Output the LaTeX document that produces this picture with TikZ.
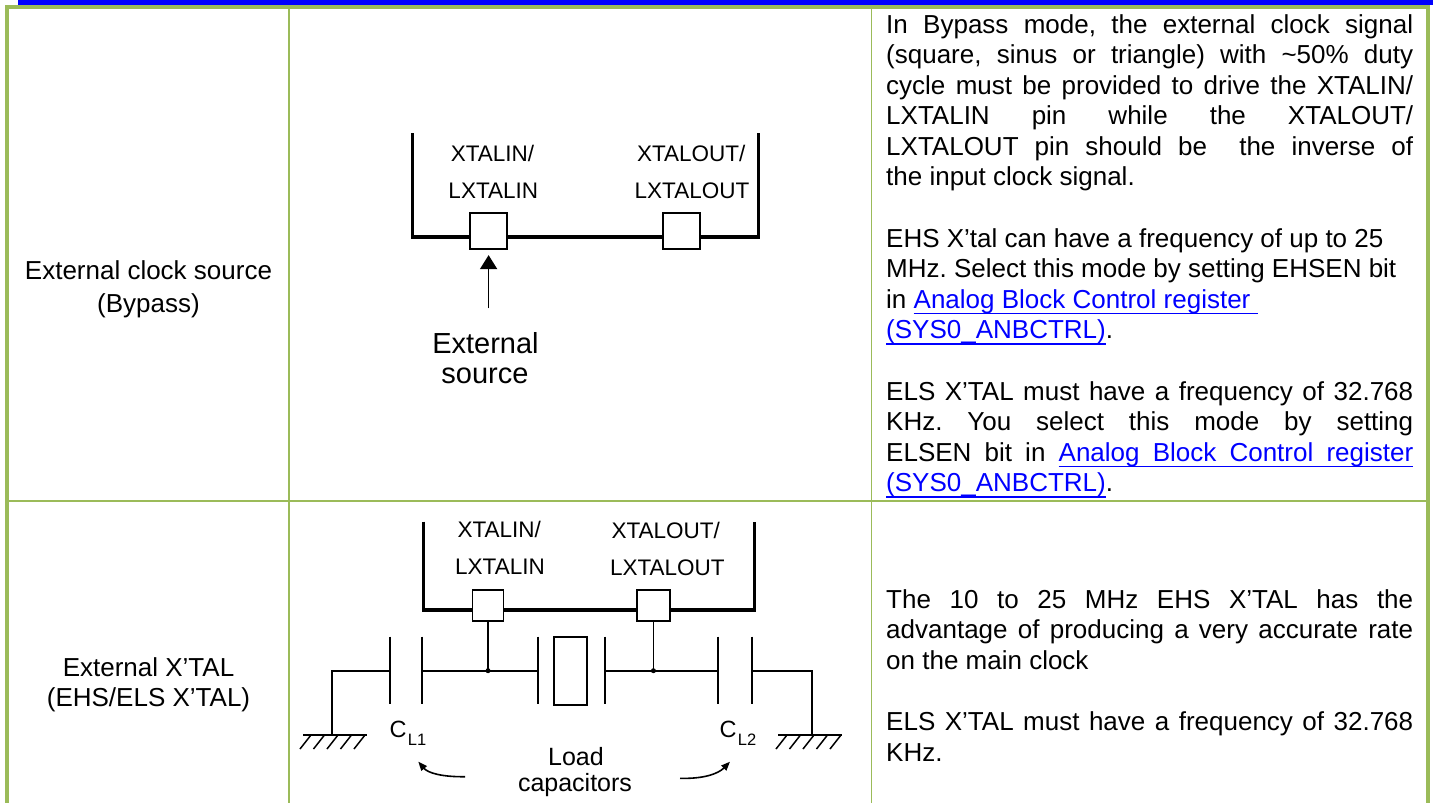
\documentclass[tikz,border=0pt]{standalone}
\usepackage{fontspec}
\setmainfont{Liberation Sans}
\usetikzlibrary{arrows.meta}
\definecolor{tblgreen}{RGB}{155,187,89}
\definecolor{barblue}{RGB}{0,0,255}
\definecolor{linkblue}{RGB}{0,0,255}
\newcommand\uw[1]{\setbox0\hbox{#1}\rlap{\rule[-5.8pt]{\wd0}{1.6pt}}\box0}
\newcommand\us{\leaders\hrule height -4.2pt depth 5.8pt\hskip\fontdimen2\font plus\fontdimen3\font minus\fontdimen4\font\relax}
\newcommand\jl[1]{\hbox to\hsize{#1}}
\newcommand\nl[1]{\hbox{#1}}
\newcommand\txtblock[1]{\vtop{\hsize=527pt\baselineskip=30.6pt\lineskiplimit=-100pt\lineskip=0pt #1}}
\frenchspacing
\begin{document}
\begin{tikzpicture}[x=1pt,y=-1pt,
  thickwire/.style={line width=3.6pt, line join=miter},
  wire/.style={line width=1.8pt},
  platestyle/.style={line width=2pt},
  pinbox/.style={draw, line width=1.8pt, fill=white, inner sep=0pt},
  pinlbl/.style={font=\fontsize{22.5}{22.5}\selectfont, inner sep=0pt, anchor=base},
  celltxt/.style={font=\fontsize{26}{30.6}\selectfont, inner sep=0pt, anchor=base},
  desc/.style={font=\fontsize{26}{30.6}\selectfont, inner sep=0pt, anchor=base west},
  biglbl/.style={font=\fontsize{29}{29}\selectfont, inner sep=0pt, anchor=base},
  loadlbl/.style={font=\fontsize{25}{25}\selectfont, inner sep=0pt, anchor=base},
  clbl/.style={font=\fontsize{23.5}{23.5}\selectfont, inner sep=0pt, anchor=base west},
  curvearrow/.style={line width=1.6pt, -{Triangle[length=9pt,width=7pt]}}
]
\useasboundingbox (0,0) rectangle (1433,803);
% ---- table frame ----
\fill[barblue] (18,0) rectangle (1433,5);
\fill[tblgreen] (5,5) rectangle (1430,9.2);
\fill[tblgreen] (5,5) rectangle (9.3,803);
\fill[tblgreen] (1425.5,5) rectangle (1430,803);
\fill[tblgreen] (288.2,9) rectangle (290,803);
\fill[tblgreen] (870.6,9) rectangle (872.4,803);
\fill[tblgreen] (9,500) rectangle (1425.5,501.8);

% ---- left column ----
\node[celltxt] (m1a) at (148.5,279) {External clock source};
\node[celltxt] (m1b) at (148.5,312) {(Bypass)};
\node[celltxt] (m2a) at (148.5,676) {External X’TAL};
\node[celltxt] (m2b) at (148.5,706) {(EHS/ELS X’TAL)};

% ---- right column ----
\node[desc] (d1) at (886,33) {\txtblock{%
\jl{In Bypass mode, the external clock signal}
\jl{(square, sinus or triangle) with \textasciitilde50\% duty}
\jl{cycle must be provided to drive the XTALIN/}
\jl{LXTALIN pin while the XTALOUT/}
\jl{LXTALOUT pin should be\ \ the inverse of}
\nl{the input clock signal.}
\nl{}
\nl{EHS X’tal can have a frequency of up to 25}
\nl{MHz. Select this mode by setting EHSEN bit}
\nl{in {\color{linkblue}\uw{Analog}\us\uw{Block}\us\uw{Control}\us\uw{register}\us}}
\nl{{\color{linkblue}\uw{(SYS0\_ANBCTRL)}}.}
\nl{}
\jl{ELS X’TAL must have a frequency of 32.768}
\jl{KHz. You select this mode by setting}
\jl{ELSEN bit in {\color{linkblue}\uw{Analog}\us\uw{Block}\us\uw{Control}\us\uw{register}}}
\nl{{\color{linkblue}\uw{(SYS0\_ANBCTRL)}}.}}};
\node[desc] (d2) at (886,608) {\txtblock{%
\jl{The 10 to 25 MHz EHS X’TAL has the}
\jl{advantage of producing a very accurate rate}
\nl{on the main clock}
\nl{}
\jl{ELS X’TAL must have a frequency of 32.768}
\nl{KHz.}}};

% ---- top diagram (bypass) ----
\draw[thickwire] (412.3,133.3) -- (412.3,236.7) -- (758.3,236.7) -- (758.3,133.3);
\node[pinbox, minimum width=37pt, minimum height=36pt] (tinA) at (488.6,231.2) {};
\node[pinbox, minimum width=37pt, minimum height=36pt] (toutA) at (681.3,231.2) {};
\node[pinlbl] (tinAl1) at (492.5,161) {XTALIN/};
\node[pinlbl] (tinAl2) at (493.3,198) {LXTALIN};
\node[pinlbl] (toutAl1) at (691.3,161) {XTALOUT/};
\node[pinlbl] (toutAl2) at (692,198) {LXTALOUT};
\coordinate (srcA) at (488.6,308.3);
\draw[line width=1.7pt, -{Triangle[length=14pt,width=17pt]}] (srcA) -- ([yshift=-5pt]tinA.south);
\node[biglbl] (ext1) at (485.5,353.3) {External};
\node[biglbl] (ext2) at (485,383.3) {source};

% ---- bottom diagram (crystal) ----
\draw[thickwire] (423.3,521.7) -- (423.3,610) -- (754.3,610) -- (754.3,521.7);
\node[pinbox, minimum width=31pt, minimum height=31pt] (tinB) at (488,605.4) {};
\node[pinbox, minimum width=32.5pt, minimum height=31pt] (toutB) at (653.4,605.4) {};
\node[pinlbl] (tinBl1) at (499.2,537.3) {XTALIN/};
\node[pinlbl] (tinBl2) at (500,574) {LXTALIN};
\node[pinlbl] (toutBl1) at (665.8,538.3) {XTALOUT/};
\node[pinlbl] (toutBl2) at (667.3,575.5) {LXTALOUT};
\coordinate (jL) at (488,670.7);
\coordinate (jR) at (653.4,670.7);
\draw[wire] (tinB.south) -- (jL);
\draw[wire] (toutB.south) -- (jR);
\fill (jL) circle (2.5pt);
\fill (jR) circle (2.5pt);
% capacitor plates and crystal
\foreach \px in {390,422.3,538.3,605,718.3,752.3}
  \draw[platestyle] (\px,636.7) -- (\px,703.5);
\draw[wire] (554,637.3) rectangle (587.3,705);
\draw[wire] (422.3,670.7) -- (538.3,670.7);
\draw[wire] (605,670.7) -- (718.3,670.7);
% left ground
\coordinate (gL) at (331.7,735);
\draw[wire] (390,670.7) -- (331.7,670.7) -- (gL);
\draw[wire] (303,735) -- (366.7,735);
\foreach \hx in {311,324.5,338,351.5,365}
  \draw[line width=1.5pt] (\hx,735) -- ++(-11,14);
% right ground
\coordinate (gR) at (811.7,735);
\draw[wire] (752.3,670.7) -- (811.7,670.7) -- (gR);
\draw[wire] (778.3,735) -- (841.7,735);
\foreach \hx in {787,800.5,814,827.5,841}
  \draw[line width=1.5pt] (\hx,735) -- ++(-11,14);
% capacitor labels
\node[clbl] (cl1) at (389.3,737.3) {C\kern1.5pt\raisebox{-7.7pt}{\fontsize{16.5}{16.5}\selectfont L1}};
\node[clbl] (cl2) at (719.3,737.3) {C\kern1.5pt\raisebox{-7.7pt}{\fontsize{16.5}{16.5}\selectfont L2}};
\node[loadlbl] (load1) at (576,765) {Load};
\node[loadlbl] (load2) at (575,791.7) {capacitors};
\coordinate (aLs) at (465,776.7);
\coordinate (aLe) at (418.3,761.7);
\coordinate (aRs) at (680,778.3);
\coordinate (aRe) at (730,761.7);
\draw[curvearrow] (aLs) .. controls (442,777) and (428,773) .. (aLe);
\draw[curvearrow] (aRs) .. controls (703,779) and (718,774) .. (aRe);
\end{tikzpicture}
\end{document}
